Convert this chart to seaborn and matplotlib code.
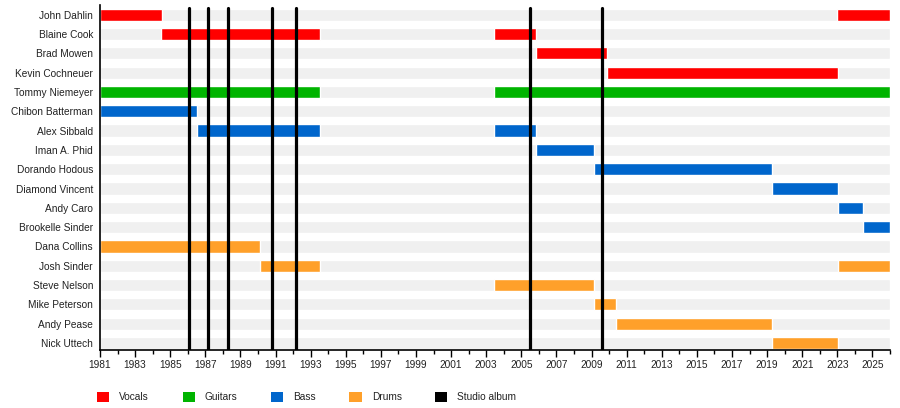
import matplotlib
matplotlib.use("Agg")
import matplotlib.pyplot as plt
from matplotlib.patches import Patch
from matplotlib.ticker import MultipleLocator
import seaborn as sns
import pandas as pd

members = ["John Dahlin", "Blaine Cook", "Brad Mowen", "Kevin Cochneuer",
           "Tommy Niemeyer", "Chibon Batterman", "Alex Sibbald", "Iman A. Phid",
           "Dorando Hodous", "Diamond Vincent", "Andy Caro", "Brookelle Sinder",
           "Dana Collins", "Josh Sinder", "Steve Nelson", "Mike Peterson",
           "Andy Pease", "Nick Uttech"]

span_member = ["John Dahlin", "John Dahlin",
               "Blaine Cook", "Blaine Cook",
               "Brad Mowen", "Kevin Cochneuer",
               "Tommy Niemeyer", "Tommy Niemeyer",
               "Chibon Batterman", "Alex Sibbald", "Alex Sibbald",
               "Iman A. Phid", "Dorando Hodous", "Diamond Vincent",
               "Andy Caro", "Brookelle Sinder",
               "Dana Collins", "Josh Sinder", "Josh Sinder",
               "Steve Nelson", "Mike Peterson", "Andy Pease", "Nick Uttech"]
span_start = [1981.0, 2023.0,
              1984.5, 2003.45,
              2005.83, 2009.87,
              1981.0, 2003.45,
              1981.0, 1986.52, 2003.45,
              2005.83, 2009.13, 2019.27,
              2023.03, 2024.45,
              1981.0, 1990.1, 2023.03,
              2003.45, 2009.13, 2010.41, 2019.27]
span_end = [1984.53, 2026.0,
            1993.53, 2005.83,
            2009.87, 2023.03,
            1993.53, 2026.0,
            1986.52, 1993.53, 2005.83,
            2009.13, 2019.27, 2023.03,
            2024.45, 2026.0,
            1990.1, 1993.53, 2026.0,
            2009.13, 2010.41, 2019.27, 2023.03]
span_role = ["Vocals", "Vocals",
             "Vocals", "Vocals",
             "Vocals", "Vocals",
             "Guitars", "Guitars",
             "Bass", "Bass", "Bass",
             "Bass", "Bass", "Bass",
             "Bass", "Bass",
             "Drums", "Drums", "Drums",
             "Drums", "Drums", "Drums", "Drums"]

album_years = [1986.09, 1987.17, 1988.31, 1990.82, 1992.18, 2005.5, 2009.59]

roles = ["Vocals", "Guitars", "Bass", "Drums"]
role_colors = ["#ff0000", "#00b400", "#0066cc", "#ffa02a"]
album_label = "Studio album"

year_min, year_max = 1981, 2026

sns.set_theme(style="white")
plt.rcParams["font.family"] = ["Liberation Sans", "DejaVu Sans"]

df = pd.DataFrame({"member": span_member, "start": span_start,
                   "end": span_end, "role": span_role})
color_map = dict(zip(roles, role_colors))
ypos = {m: i for i, m in enumerate(members)}

fig = plt.figure(figsize=(9.0, 4.08), dpi=100)
ax = fig.add_axes([100 / 900, 1 - 350 / 408, 790 / 900, 345 / 408])

bar_h = 0.63
# background rows
ax.barh(range(len(members)), [year_max - year_min] * len(members),
        left=year_min, height=bar_h, color="#f0f0f0", zorder=1)
# membership spans
for _, r in df.iterrows():
    ax.barh(ypos[r["member"]], r["end"] - r["start"], left=r["start"],
            height=bar_h, color=color_map[r["role"]], zorder=2)
# album lines
for yr in album_years:
    ax.axvline(yr, ymax=0.99, color="black", lw=2.3, zorder=3)

ax.set_xlim(year_min, year_max)
ax.set_ylim(len(members) - 1 + 0.36, -0.5)
ax.set_yticks(range(len(members)))
ax.set_yticklabels(members)
ax.xaxis.set_minor_locator(MultipleLocator(1))
ax.set_xticks(range(1981, 2026, 2))
ax.tick_params(axis="x", which="major", length=5, width=1, color="black",
               labelsize=7.3, pad=2, bottom=True, labelcolor="#222222")
ax.tick_params(axis="x", which="minor", length=3, width=1, color="black", bottom=True)
ax.tick_params(axis="y", length=0, labelsize=7.3, pad=5, labelcolor="#222222")
for s in ["top", "right"]:
    ax.spines[s].set_visible(False)
for s in ["left", "bottom"]:
    ax.spines[s].set_color("black")
    ax.spines[s].set_linewidth(1.2)
ax.set_xlabel("")
ax.set_ylabel("")

handles = [Patch(facecolor=c, edgecolor="none", label=r) for r, c in zip(roles, role_colors)]
handles.append(Patch(facecolor="black", edgecolor="none", label=album_label))
fig.legend(handles=handles, loc="center left", bbox_to_anchor=(97 / 900, 1 - 397 / 408),
           ncol=5, frameon=False, fontsize=7.3, handlelength=1.2, handleheight=1.2,
           handletextpad=1.0, columnspacing=3.3, borderpad=0, borderaxespad=0,
           labelcolor="#222222")

fig.savefig("out.png", dpi=100)
